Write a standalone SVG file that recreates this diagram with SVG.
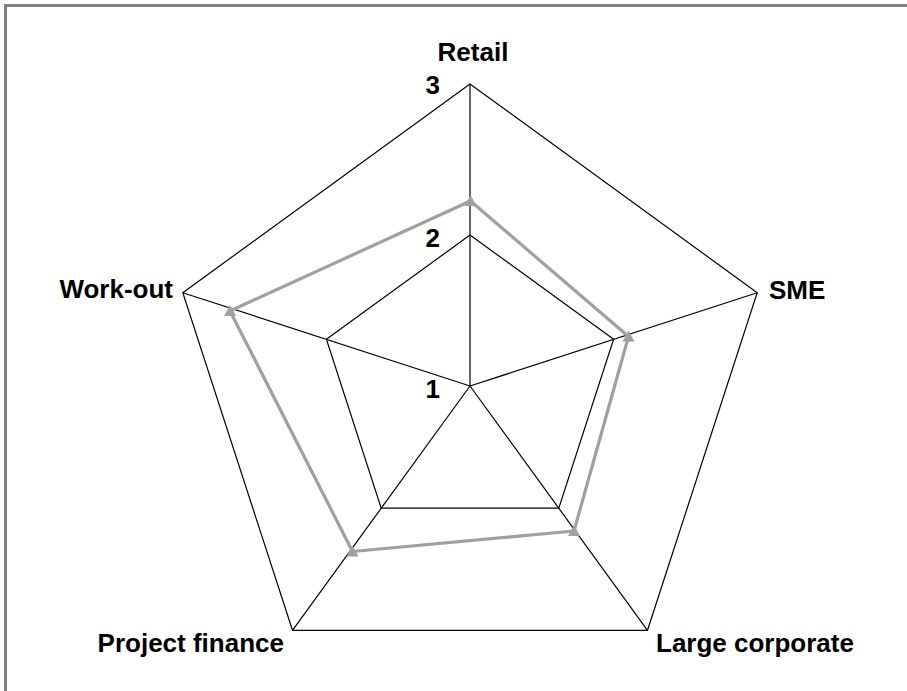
<svg xmlns="http://www.w3.org/2000/svg" width="907" height="691" viewBox="0 0 907 691">
<style>
.grid{fill:none;stroke:#000;stroke-width:1.2}
.lbl{font-family:"Liberation Sans",Arial,sans-serif;font-weight:bold;font-size:26px;fill:#000}
.series{fill:none;stroke:#A0A0A0;stroke-width:3.2;stroke-linejoin:round}
</style>
<defs>
<marker id="tri" viewBox="-7 -7 14 14" markerWidth="14" markerHeight="14" markerUnits="userSpaceOnUse" refX="0" refY="0" orient="0">
<path d="M0,-6 L6,5 L-6,5 Z" fill="#A0A0A0"/>
</marker>
</defs>
<rect x="0" y="0" width="907" height="691" fill="#fff"/>
<rect x="5.5" y="5.5" width="920" height="700" fill="none" stroke="#808080" stroke-width="3"/>
<g id="grid">
<polygon class="grid" points="470,84 757.2,292.7 647.5,630.3 292.5,630.3 182.8,292.7"/>
<polygon class="grid" points="470,235 613.6,339.3 558.8,508.2 381.2,508.2 326.4,339.3"/>
</g>
<g id="connectors">
<line class="grid" x1="470" y1="386" x2="470" y2="84"/>
<line class="grid" x1="470" y1="386" x2="757.2" y2="292.7"/>
<line class="grid" x1="470" y1="386" x2="647.5" y2="630.3"/>
<line class="grid" x1="470" y1="386" x2="292.5" y2="630.3"/>
<line class="grid" x1="470" y1="386" x2="182.8" y2="292.7"/>
<polygon id="series" class="series" points="470.5,201 628.5,336.5 574,531 352.5,551.5 230,311" marker-start="url(#tri)" marker-mid="url(#tri)"/>
</g>
<g id="axis-ticks">
<text class="lbl" x="440" y="94" text-anchor="end">3</text>
<text class="lbl" x="440" y="247" text-anchor="end">2</text>
<text class="lbl" x="440" y="398" text-anchor="end">1</text>
</g>
<g id="node-retail"><text class="lbl" x="473" y="61" text-anchor="middle">Retail</text></g>
<g id="node-sme"><text class="lbl" x="769" y="299">SME</text></g>
<g id="node-large-corporate"><text class="lbl" x="656" y="652">Large corporate</text></g>
<g id="node-project-finance"><text class="lbl" x="284" y="652" text-anchor="end">Project finance</text></g>
<g id="node-work-out"><text class="lbl" x="173" y="298" text-anchor="end">Work-out</text></g>
</svg>
